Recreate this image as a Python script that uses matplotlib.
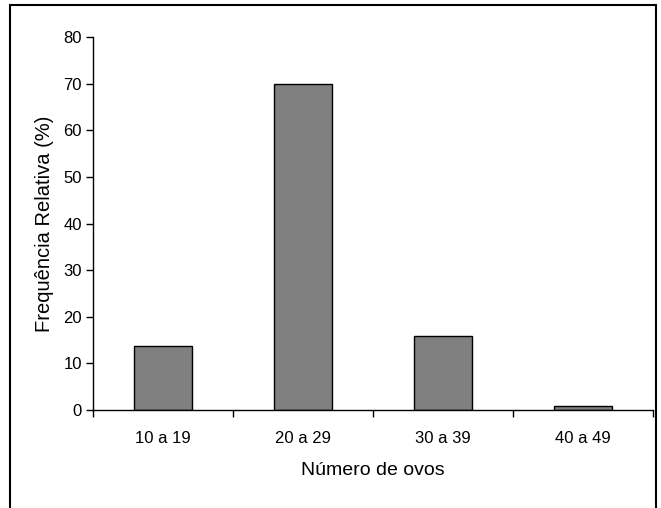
import matplotlib.pyplot as plt
from matplotlib.patches import Rectangle

# dados
categorias = ["10 a 19", "20 a 29", "30 a 39", "40 a 49"]
frequencia = [13.7, 70.0, 15.9, 0.8]
y_ticks = [0, 10, 20, 30, 40, 50, 60, 70, 80]

plt.rcParams["font.family"] = ["Liberation Sans", "DejaVu Sans"]

fig = plt.figure(figsize=(6.61, 5.08), dpi=100)
ax = fig.add_axes([0.1407, 0.193, 0.8473, 0.734])

x = list(range(len(categorias)))
ax.bar(x, frequencia, width=0.42, color="#808080", edgecolor="black", linewidth=1.0)

ax.set_xlim(-0.5, len(categorias) - 0.5)
ax.set_ylim(0, 80)
ax.set_yticks(y_ticks)
ax.tick_params(axis="y", direction="out", length=5, width=1, labelsize=12, pad=3)

# ticks entre categorias, rotulos no centro
ax.set_xticks([i - 0.5 for i in range(len(categorias) + 1)])
ax.set_xticklabels([])
ax.tick_params(axis="x", which="major", direction="out", length=5, width=1)
ax.set_xticks(x, minor=True)
ax.tick_params(axis="x", which="minor", length=0, labelsize=12, pad=15)
ax.set_xticklabels(categorias, minor=True)

ax.spines["right"].set_visible(False)
ax.spines["top"].set_visible(False)
ax.spines["left"].set_linewidth(1)
ax.spines["bottom"].set_linewidth(1)

ax.set_ylabel("Frequência Relativa (%)", fontsize=14.5, labelpad=7)
ax.set_xlabel("Número de ovos", fontsize=14, labelpad=12)

# moldura da figura
fig.patches.append(Rectangle((10 / 661, -0.05), 646 / 661, 1.04, transform=fig.transFigure,
                             fill=False, edgecolor="black", linewidth=1.5))

fig.savefig("out.png", dpi=100)
